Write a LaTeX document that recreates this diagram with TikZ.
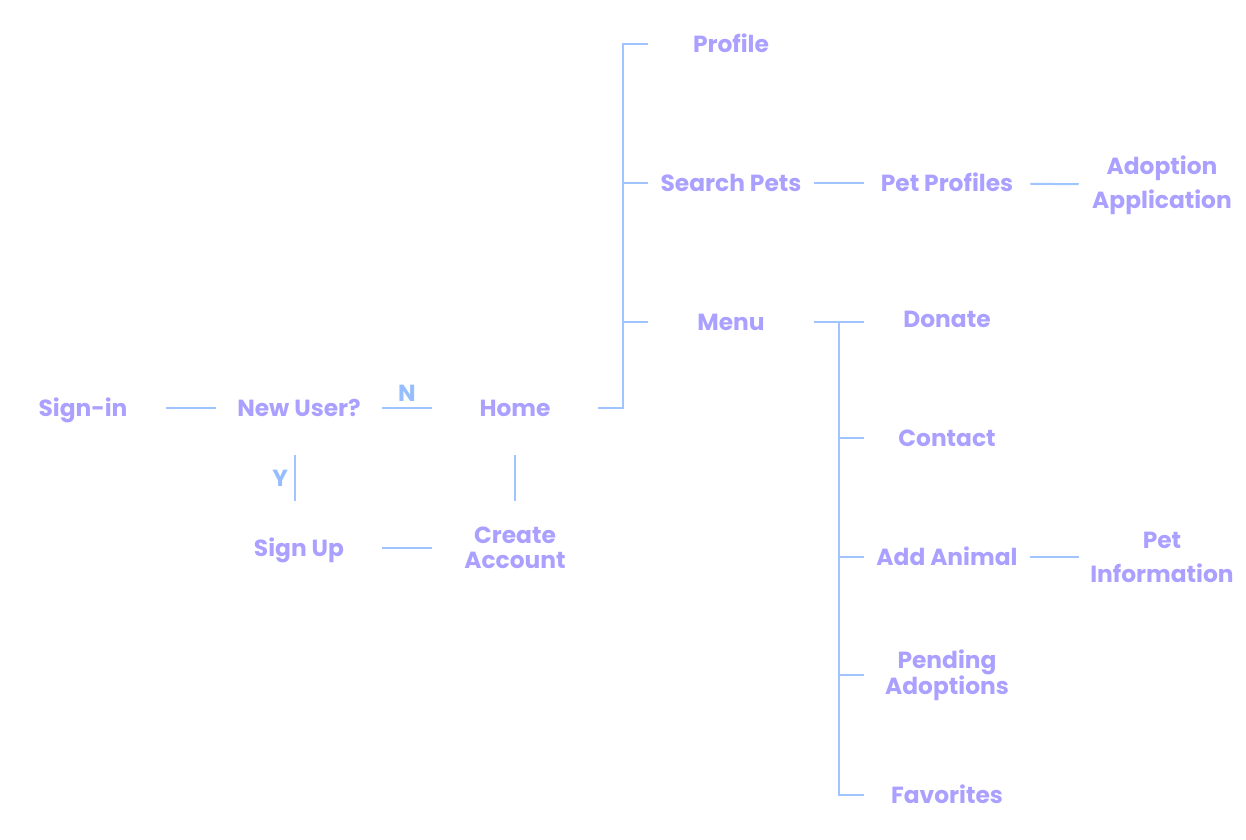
\documentclass[tikz,border=0pt]{standalone}
\usepackage{fontspec}
\setmainfont{Poppins}
\usetikzlibrary{positioning, calc}
\definecolor{pagetext}{RGB}{170, 160, 255}
\definecolor{pageline}{RGB}{160, 196, 255}
\definecolor{choicetext}{RGB}{150, 190, 255}
\tikzset{
    pagebox/.style={rectangle, inner sep=0pt, minimum width=124.5pt, minimum height=70pt,
                    text=pagetext, align=center, text height=14pt, text depth=2pt,
                    font=\bfseries\fontsize{17.5}{19}\selectfont},
    pagetwo/.style={rectangle, inner sep=0pt, minimum width=124.5pt, minimum height=70pt,
                    text=pagetext, align=center, font=\bfseries\fontsize{17.5}{18.5}\selectfont},
    pagetwowide/.style={pagetwo, font=\bfseries\fontsize{17.5}{25.5}\selectfont},
    link/.style={draw=pageline, line width=1.5pt},
    choice/.style={text=choicetext, inner sep=4.5pt, font=\bfseries\fontsize{17.5}{17.5}\selectfont},
}
\begin{document}
\begin{tikzpicture}[x=0.75pt, y=-0.75pt]
    \useasboundingbox (0,0) rectangle (1246,839);
    % sign-in flow
    \node[pagebox] (signin) at (83,408) {Sign-in};
    \node[pagebox] (newuser) at (299,408) {New User?};
    \node[pagebox] (home) at (515,408) {Home};
    \node[pagebox] (signup) at (299,548) {Sign Up};
    \node[pagetwo] (create) at (515,548) {Create\\Account};
    % home branches
    \node[pagebox] (profile) at (731,44) {Profile};
    \node[pagebox] (search) at (731,183) {Search Pets};
    \node[pagebox] (petprofiles) at (947,183) {Pet Profiles};
    \node[pagetwowide] (adoption) at (1162,185) {Adoption\\Application};
    \node[pagebox] (menu) at (731,322) {Menu};
    % menu items
    \node[pagebox] (donate) at (947,319) {Donate};
    \node[pagebox] (contact) at (947,438) {Contact};
    \node[pagebox] (addanimal) at (947,557) {Add Animal};
    \node[pagetwowide] (petinfo) at (1162,557) {Pet\\Information};
    \node[pagetwo] (pending) at (947,675) {Pending\\Adoptions};
    \node[pagebox] (favorites) at (947,795) {Favorites};

    \draw[link] (signin) -- (newuser);
    \draw[link] (newuser) -- (home) node[midway, above, choice] {N};
    \draw[link] ([xshift=-3pt]newuser.south) -- ([xshift=-3pt]signup.north)
        node[midway, left, choice] {Y};
    \draw[link] (signup) -- (create);
    \draw[link] (create) -- (home);
    % home tree
    \coordinate (htrunk) at ($(home.east)+(25,0)$);
    \draw[link] (home.east) -- (htrunk) |- (profile.west);
    \draw[link] (htrunk) |- (search.west);
    \draw[link] (htrunk) |- (menu.west);
    \draw[link] (search) -- (petprofiles);
    \draw[link] (petprofiles) -- (adoption);
    % menu tree
    \coordinate (mtrunk) at ($(menu.east)!0.5!(menu.east -| donate.west)$);
    \draw[link] (menu.east) -- (menu.east -| donate.west);
    \foreach \item in {contact, addanimal, pending, favorites}
        \draw[link] (mtrunk) |- (\item.west);
    \draw[link] (addanimal) -- (petinfo);
\end{tikzpicture}
\end{document}
